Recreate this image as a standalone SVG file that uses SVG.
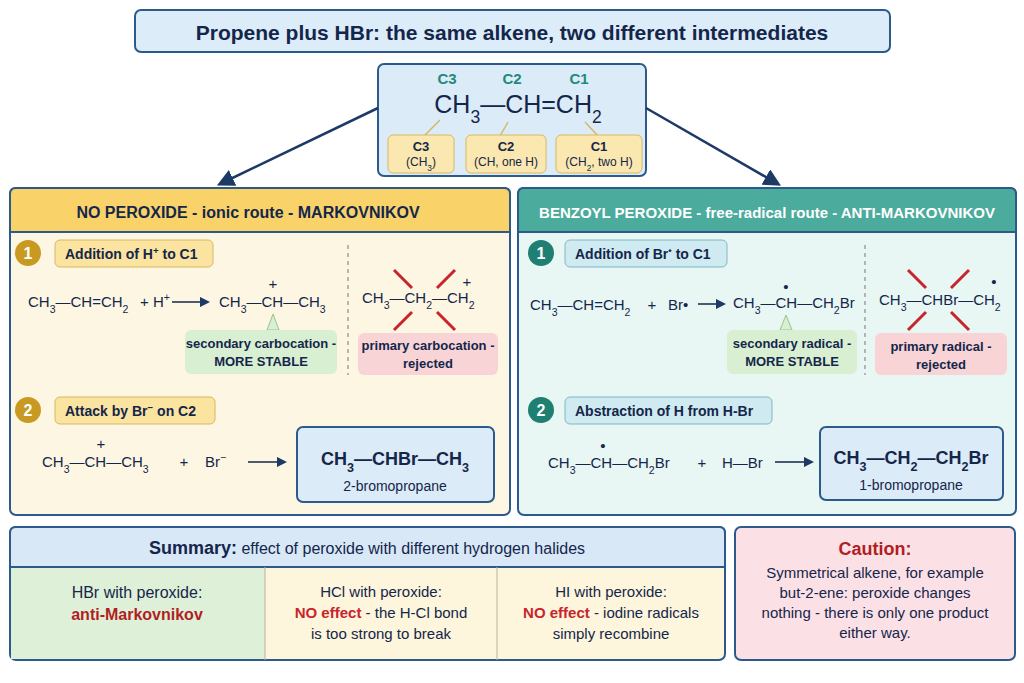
<svg xmlns="http://www.w3.org/2000/svg" width="1024" height="683" viewBox="0 0 1024 683">
<defs>
<marker id="ah" viewBox="0 0 10 10" refX="8" refY="5" markerWidth="7" markerHeight="7" orient="auto"><path d="M0,0 L10,5 L0,10 z" fill="#1d3a66"/></marker>
<style>
text{font-family:"Liberation Sans","Noto Sans",sans-serif;fill:#14264a}
.b{font-weight:bold}
.s{font-size:70%;baseline-shift:sub}
.p{font-size:70%;baseline-shift:super}
.eq{font-size:15px}
.box{stroke:#2c5a8a;stroke-width:2}
.lab{font-size:14px;font-weight:bold}
.sm{font-size:13px;font-weight:bold}
.c{text-anchor:middle}
.x{stroke:#c8242c;stroke-width:3}
.dash{stroke:#777;stroke-width:1;stroke-dasharray:4 4}
</style>
</defs>
<rect width="1024" height="683" fill="#ffffff"/>
<g id="title"><rect x="135" y="10" width="755" height="42" rx="6" fill="#dcecf9" class="box"/>
<text x="512" y="40" class="c b" font-size="21">Propene plus HBr: the same alkene, two different intermediates</text></g>

<g id="propene"><rect x="378" y="64" width="268" height="112" rx="6" fill="#dcebf8" class="box"/>
<text x="447" y="84" class="c b" font-size="15" style="fill:#1e8a7a">C3</text>
<text x="512" y="84" class="c b" font-size="15" style="fill:#1e8a7a">C2</text>
<text x="579" y="84" class="c b" font-size="15" style="fill:#1e8a7a">C1</text>
<text x="518" y="113" class="c" font-size="25">CH<tspan class="s">3</tspan>—CH=CH<tspan class="s">2</tspan></text>
<path d="M440,120 L420,140 M508,122 L500,136 M585,122 L598,136" stroke="#d8b860" stroke-width="1.5" fill="none"/>
<rect x="388" y="135" width="66" height="38" rx="5" fill="#fbe7b0" stroke="#d8b860"/>
<rect x="466" y="135" width="80" height="38" rx="5" fill="#fbe7b0" stroke="#d8b860"/>
<rect x="556" y="135" width="86" height="38" rx="5" fill="#fbe7b0" stroke="#d8b860"/>
<text x="421" y="151" class="c sm">C3</text><text x="421" y="166" class="c" font-size="12">(CH<tspan class="s">3</tspan>)</text>
<text x="506" y="151" class="c sm">C2</text><text x="506" y="166" class="c" font-size="12">(CH, one H)</text>
<text x="599" y="151" class="c sm">C1</text><text x="599" y="166" class="c" font-size="12">(CH<tspan class="s">2</tspan>, two H)</text></g>

<g id="connectors" stroke="#1d3a66" stroke-width="2.5" fill="none">
<path d="M378,108 L220,184" marker-end="url(#ah)"/>
<path d="M646,108 L778,184" marker-end="url(#ah)"/>
</g>

<g id="left-panel"><rect x="10" y="188" width="500" height="327" rx="6" fill="#fdf6e3" class="box"/>
<path d="M10,232 L10,194 Q10,188 16,188 L504,188 Q510,188 510,194 L510,232 Z" fill="#f9d36a" class="box"/>
<text x="248" y="218" class="c b" font-size="16">NO PEROXIDE - ionic route - MARKOVNIKOV</text>
<circle cx="28" cy="253" r="13" fill="#c99a22"/><text x="28" y="259" class="c b" font-size="16" style="fill:#fff">1</text>
<rect x="55" y="240" width="158" height="27" rx="5" fill="#fbe3a0" stroke="#d8b860"/>
<text x="65" y="259" class="lab">Addition of H<tspan class="p">+</tspan> to C1</text>
<text x="28" y="307" class="eq">CH<tspan class="s">3</tspan>—CH=CH<tspan class="s">2</tspan></text>
<text x="140" y="307" class="eq">+ H<tspan class="p">+</tspan></text>
<path d="M172,302 L208,302" stroke="#14264a" stroke-width="1.5" marker-end="url(#ah)"/>
<text x="219" y="307" class="eq">CH<tspan class="s">3</tspan>—CH—CH<tspan class="s">3</tspan></text>
<text x="273" y="289" class="c eq">+</text>
<path d="M273,314 L267,330 L279,330 Z" fill="#d9efd2" stroke="#9bc38e"/>
<line x1="348" y1="245" x2="348" y2="375" class="dash"/>
<text x="362" y="303" class="eq">CH<tspan class="s">3</tspan>—CH<tspan class="s">2</tspan>—CH<tspan class="s">2</tspan></text>
<text x="467" y="287" class="c eq">+</text>
<path d="M394,270 L412,288 M437,312 L455,330 M455,270 L437,288 M412,312 L394,330" class="x"/>
<rect x="185" y="330" width="152" height="44" rx="6" fill="#d9efd2"/>
<text x="261" y="348" class="c sm">secondary carbocation -</text><text x="261" y="366" class="c sm">MORE STABLE</text>
<rect x="358" y="333" width="140" height="42" rx="6" fill="#f8d4d6"/>
<text x="428" y="350" class="c sm">primary carbocation -</text><text x="428" y="368" class="c sm">rejected</text>
<circle cx="28" cy="410" r="13" fill="#c99a22"/><text x="28" y="416" class="c b" font-size="16" style="fill:#fff">2</text>
<rect x="55" y="397" width="160" height="27" rx="5" fill="#fbe3a0" stroke="#d8b860"/>
<text x="65" y="416" class="lab">Attack by Br<tspan class="p">−</tspan> on C2</text>
<text x="42" y="467" class="eq">CH<tspan class="s">3</tspan>—CH—CH<tspan class="s">3</tspan></text>
<text x="184" y="467" class="c eq">+</text>
<text x="205" y="467" class="eq">Br<tspan class="p">−</tspan></text>
<text x="101" y="449" class="c eq">+</text>
<path d="M248,462 L285,462" stroke="#14264a" stroke-width="1.5" marker-end="url(#ah)"/>
<rect x="297" y="427" width="197" height="75" rx="6" fill="#dcebf8" class="box"/>
<text x="395" y="465" class="c b" font-size="18">CH<tspan class="s">3</tspan>—CHBr—CH<tspan class="s">3</tspan></text>
<text x="395" y="491" class="c" font-size="14">2-bromopropane</text></g>

<g id="right-panel"><rect x="518" y="188" width="498" height="327" rx="6" fill="#e8f6f4" class="box"/>
<path d="M518,232 L518,194 Q518,188 524,188 L1010,188 Q1016,188 1016,194 L1016,232 Z" fill="#4bab9c" class="box"/>
<text x="767" y="218" class="c b" font-size="15" style="fill:#fff">BENZOYL PEROXIDE - free-radical route - ANTI-MARKOVNIKOV</text>
<circle cx="541" cy="253" r="13" fill="#1e7f72"/><text x="541" y="259" class="c b" font-size="16" style="fill:#fff">1</text>
<rect x="565" y="240" width="162" height="27" rx="5" fill="#cfeaf0" stroke="#7fb8c4"/>
<text x="575" y="259" class="lab">Addition of Br<tspan class="p">•</tspan> to C1</text>
<text x="530" y="310" class="eq">CH<tspan class="s">3</tspan>—CH=CH<tspan class="s">2</tspan></text>
<text x="652" y="310" class="c eq">+</text>
<text x="668" y="310" class="eq">Br•</text>
<path d="M698,304 L724,304" stroke="#14264a" stroke-width="1.5" marker-end="url(#ah)"/>
<text x="733" y="308" class="eq">CH<tspan class="s">3</tspan>—CH—CH<tspan class="s">2</tspan>Br</text>
<text x="786" y="292" class="c eq">•</text>
<path d="M786,315 L780,330 L792,330 Z" fill="#d9efd2" stroke="#9bc38e"/>
<line x1="865" y1="245" x2="865" y2="375" class="dash"/>
<text x="879" y="305" class="eq">CH<tspan class="s">3</tspan>—CHBr—CH<tspan class="s">2</tspan></text>
<text x="994" y="287" class="c eq">•</text>
<path d="M908,270 L926,288 M951,312 L969,330 M969,270 L951,288 M926,312 L908,330" class="x"/>
<rect x="727" y="330" width="130" height="44" rx="6" fill="#d9efd2"/>
<text x="792" y="348" class="c sm">secondary radical -</text><text x="792" y="366" class="c sm">MORE STABLE</text>
<rect x="875" y="333" width="132" height="42" rx="6" fill="#f8d4d6"/>
<text x="941" y="351" class="c sm">primary radical -</text><text x="941" y="369" class="c sm">rejected</text>
<circle cx="541" cy="410" r="13" fill="#1e7f72"/><text x="541" y="416" class="c b" font-size="16" style="fill:#fff">2</text>
<rect x="565" y="397" width="207" height="27" rx="5" fill="#cfeaf0" stroke="#7fb8c4"/>
<text x="575" y="416" class="lab">Abstraction of H from H-Br</text>
<text x="548" y="468" class="eq">CH<tspan class="s">3</tspan>—CH—CH<tspan class="s">2</tspan>Br</text>
<text x="702" y="468" class="c eq">+</text>
<text x="722" y="468" class="eq">H—Br</text>
<path d="M775,462 L812,462" stroke="#14264a" stroke-width="1.5" marker-end="url(#ah)"/>
<text x="603" y="451" class="c eq">•</text>
<rect x="820" y="427" width="183" height="73" rx="6" fill="#dcebf8" class="box"/>
<text x="911" y="464" class="c b" font-size="18">CH<tspan class="s">3</tspan>—CH<tspan class="s">2</tspan>—CH<tspan class="s">2</tspan>Br</text>
<text x="911" y="490" class="c" font-size="14">1-bromopropane</text></g>

<g id="summary"><rect x="10" y="527" width="715" height="133" rx="6" fill="#fdf5dc" class="box"/>
<rect x="11" y="567" width="254" height="92" fill="#dff0d8"/>
<path d="M10,567 L10,533 Q10,527 16,527 L719,527 Q725,527 725,533 L725,567 Z" fill="#d8e8f7" class="box"/>
<line x1="10" y1="567" x2="725" y2="567" stroke="#2c5a8a" stroke-width="1.5"/>
<line x1="265" y1="567" x2="265" y2="660" stroke="#b9b49a"/><line x1="497" y1="567" x2="497" y2="660" stroke="#b9b49a"/>
<text x="367" y="554" class="c" font-size="16"><tspan class="b" font-size="18">Summary:</tspan> effect of peroxide with different hydrogen halides</text>
<text x="137" y="598" class="c" font-size="16">HBr with peroxide:</text>
<text x="137" y="620" class="c b" font-size="16" style="fill:#b01e24">anti-Markovnikov</text>
<text x="381" y="597" class="c" font-size="15">HCl with peroxide:</text>
<text x="381" y="618" class="c" font-size="15"><tspan class="b" style="fill:#c8242c">NO effect</tspan> - the H-Cl bond</text>
<text x="381" y="639" class="c" font-size="15">is too strong to break</text>
<text x="611" y="597" class="c" font-size="15">HI with peroxide:</text>
<text x="611" y="618" class="c" font-size="15"><tspan class="b" style="fill:#c8242c">NO effect</tspan> - iodine radicals</text>
<text x="611" y="639" class="c" font-size="15">simply recombine</text></g>

<g id="caution"><rect x="735" y="527" width="280" height="133" rx="6" fill="#fbe0e6" class="box"/>
<text x="875" y="555" class="c b" font-size="18" style="fill:#b01e24">Caution:</text>
<text x="875" y="578" class="c" font-size="15">Symmetrical alkene, for example</text>
<text x="875" y="598" class="c" font-size="15">but-2-ene: peroxide changes</text>
<text x="875" y="618" class="c" font-size="15">nothing - there is only one product</text>
<text x="875" y="638" class="c" font-size="15">either way.</text></g>
</svg>
